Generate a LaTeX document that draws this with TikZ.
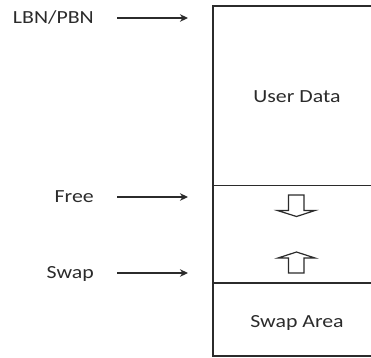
\documentclass[tikz,border=0pt]{standalone}
\usepackage{fontspec}
\setmainfont[FakeStretch=1.18]{Carlito}
\usetikzlibrary{arrows.meta}
\definecolor{ink}{HTML}{2B2B2B}
\tikzset{
  lbl/.style={inner sep=0pt, text height=11.9pt, text depth=0pt, text=ink,
              font=\fontsize{18.5}{20}\selectfont},
  ptr/.style={draw=ink, line width=1.2pt, shorten <=23pt, shorten >=25pt,
              -{Stealth[length=8pt,width=7.5pt,inset=2.5pt]}},
  wall/.style={draw=ink, line width=1.3pt},
  hollow/.style={draw=ink, line width=1.2pt, line join=miter, fill=white}
}
\begin{document}
\begin{tikzpicture}[x=1pt,y=-1pt]
  \useasboundingbox (0,0) rectangle (371,357);

  % memory layout column (open to the right)
  \coordinate (tl) at (213,6);
  \coordinate (bl) at (213,356);
  \coordinate (d1) at (213,185.5);
  \coordinate (d2) at (213,283);
  \draw[wall] (380,6) -- (tl) -- (bl) -- (380,356);
  \draw[wall] (d1) -- (380,185.5);
  \draw[wall] (d2) -- (380,283);

  % region names
  \node[lbl] (user) at (297,97) {User Data};
  \node[lbl] (swaparea) at (297,322) {Swap Area};

  % pointer labels
  \node[lbl, anchor=east] (lbn) at (94,18) {LBN/PBN};
  \node[lbl, anchor=east] (free) at (94,197) {Free};
  \node[lbl, anchor=east] (swap) at (94,273) {Swap};

  \coordinate (lbnIn) at (213,18);
  \coordinate (freeIn) at (213,197);
  \coordinate (swapIn) at (213,273);
  \draw[ptr] (lbn.east) -- (lbnIn);
  \draw[ptr] (free.east) -- (freeIn);
  \draw[ptr] (swap.east) -- (swapIn);

  % growth direction marks
  \draw[hollow] (288.5,195) -- (288.5,210.5) -- (277.5,210.5) -- (296.5,216.5)
    -- (315,210.5) -- (304,210.5) -- (304,195) -- cycle;
  \draw[hollow] (288.5,273) -- (288.5,258) -- (278,258) -- (296.5,252)
    -- (315,258) -- (304,258) -- (304,273) -- cycle;
\end{tikzpicture}
\end{document}
